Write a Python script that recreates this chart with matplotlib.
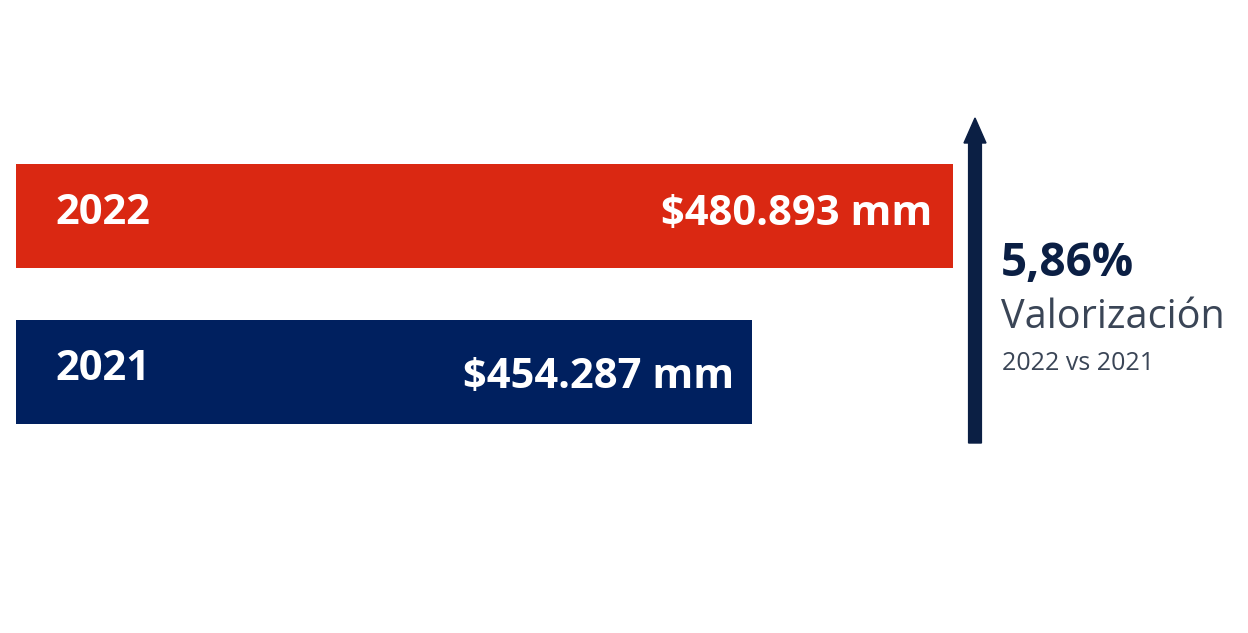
import matplotlib
matplotlib.use("Agg")
import matplotlib.pyplot as plt

years = ["2021", "2022"]
values = [454287, 480893]
value_labels = ["$454.287 mm", "$480.893 mm"]
bar_colors = ["#00205F", "#DA2812"]
pct_label = "5,86%"
sub_label = "Valorización"
cmp_label = "2022 vs 2021"

W, H = 1248, 633
fig = plt.figure(figsize=(W / 100, H / 100), dpi=100)
fig.patch.set_facecolor("white")

# axes from pixel 16 to the right edge
ax = fig.add_axes([16 / W, 0, 1 - 16 / W, 1])
ax.set_axis_off()
x_start = 356860          # value shown at the left edge of the axes
px_per_unit = 132.37      # value units per pixel
ax.set_xlim(x_start, x_start + (W - 16) * px_per_unit)
# y: 2022 at pixel 216, 2021 at pixel 372
ax.set_ylim(-(H - 372) / 156, 1 + 216 / 156)

ypos = [0, 1]
ax.barh(ypos, values, left=0, height=0.667, color=bar_colors)

for y, yr, v, lab in zip(ypos, years, values, value_labels):
    ax.text(x_start + 39 * px_per_unit, y + 0.015, yr, color="white",
            fontsize=30, fontweight="bold", family="Open Sans",
            ha="left", va="center")
    ax.text(v - (18 if y == 0 else 21) * px_per_unit,
            y - 0.035 if y == 0 else y + 0.01, lab,
            color="white", fontsize=30, fontweight="bold", family="Open Sans",
            ha="right", va="center")

def fx(px):
    return px / W

def fy(py):
    return 1 - py / H

fig.add_artist(matplotlib.patches.FancyArrow(
    fx(975), fy(443), 0, fy(118) - fy(443), width=6.5 / H,
    head_width=22 / W, head_length=25 / H, length_includes_head=True,
    color="#0B1F44", transform=fig.transFigure))

fig.text(fx(1001), fy(263), pct_label, color="#0B1F44", fontsize=33,
         fontweight="bold", family="Open Sans", ha="left", va="center")
fig.text(fx(1001), fy(318), sub_label, color="#3A4556", fontsize=28.5,
         family="Open Sans", ha="left", va="center")
fig.text(fx(1002), fy(364), cmp_label, color="#3A4556", fontsize=18,
         family="Open Sans", ha="left", va="center")

fig.savefig("out.png", dpi=100, facecolor="white")
